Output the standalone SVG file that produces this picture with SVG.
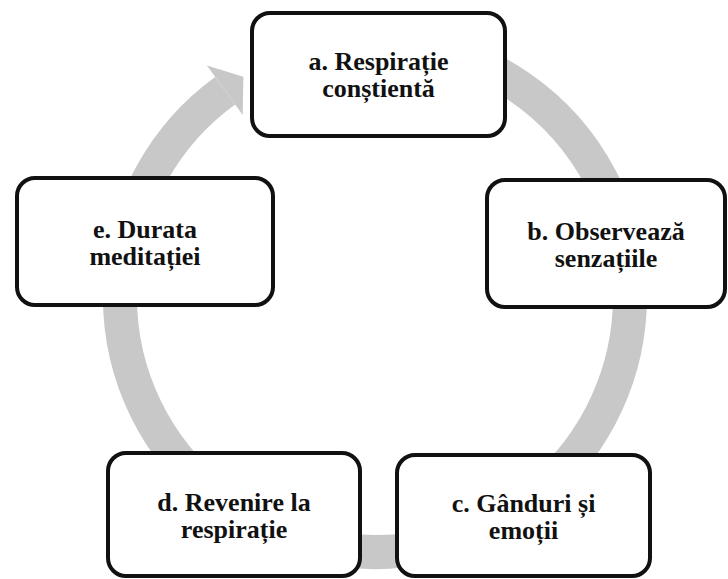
<svg xmlns="http://www.w3.org/2000/svg" width="728" height="579" viewBox="0 0 728 579">
<style>
.box{fill:#ffffff;stroke:#111111;stroke-width:4}
.lbl{font-weight:bold;font-size:26px;fill:#111111;text-anchor:middle}
.ring{fill:none;stroke:#c8c8c8;stroke-width:34}
.head{fill:#c8c8c8}
</style>
<rect width="728" height="579" fill="#ffffff"/>
<g id="connectors">
<path class="ring" d="M 419.3 45.9 A 255 255 0 1 1 225.1 90.7"/>
<polygon class="head" points="242.7,115.0 206.9,65.6 243.4,76.8"/>
</g>
<g font-family="Liberation Serif, Times New Roman, serif">
<g id="node-a">
<rect class="box" x="252" y="13" width="253" height="123" rx="18"/>
<text class="lbl" x="378.5" y="70">a. Respirație</text>
<text class="lbl" x="378.5" y="97">conștientă</text>
</g>
<g id="node-b">
<rect class="box" x="487" y="180" width="238" height="127" rx="18"/>
<text class="lbl" x="606" y="240">b. Observează</text>
<text class="lbl" x="606" y="267">senzațiile</text>
</g>
<g id="node-c">
<rect class="box" x="397" y="455" width="253" height="121" rx="18"/>
<text class="lbl" x="523.5" y="512">c. Gânduri și</text>
<text class="lbl" x="523.5" y="539">emoții</text>
</g>
<g id="node-d">
<rect class="box" x="108" y="453" width="252" height="123" rx="18"/>
<text class="lbl" x="234" y="511">d. Revenire la</text>
<text class="lbl" x="234" y="538">respirație</text>
</g>
<g id="node-e">
<rect class="box" x="17" y="178" width="256" height="127" rx="18"/>
<text class="lbl" x="145" y="238">e. Durata</text>
<text class="lbl" x="145" y="265">meditației</text>
</g>
</g>
</svg>
